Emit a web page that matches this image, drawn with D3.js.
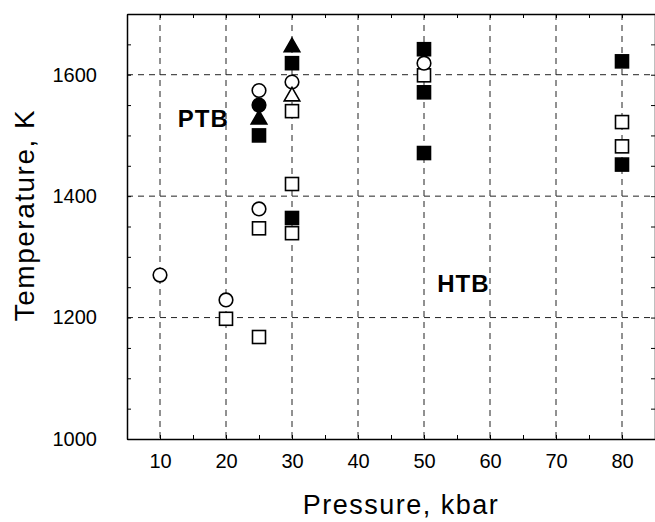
<!DOCTYPE html>
<html>
<head>
<meta charset="utf-8">
<script src="https://cdn.jsdelivr.net/npm/d3@7"></script>
<style>
  body { margin: 0; background: #fff; }
  text { font-family: "Liberation Sans", Arial, Helvetica, sans-serif; }
</style>
</head>
<body>
<div id="chart"></div>
<script>
// data: pressure (kbar) and temperature (K) per marker style
var openCircleP = [10, 20, 25, 25, 30, 50];
var openCircleT = [1270, 1229, 1574, 1379, 1588, 1619];
var filledCircleP = [25];
var filledCircleT = [1550];
var openSquareP = [20, 25, 25, 30, 30, 30, 50, 80, 80];
var openSquareT = [1198, 1347, 1168, 1540, 1420, 1339, 1599, 1522, 1482];
var filledSquareP = [25, 30, 30, 50, 50, 50, 80, 80];
var filledSquareT = [1500, 1619, 1364, 1642, 1571, 1471, 1622, 1452];
var openTriangleP = [30];
var openTriangleT = [1566];
var filledTriangleP = [25, 30];
var filledTriangleT = [1528, 1647];

var xTicks = [10, 20, 30, 40, 50, 60, 70, 80];
var yTicks = [1000, 1200, 1400, 1600];
var regionLabels = ["PTB", "HTB"];
var regionP = [12.7, 52];
var regionT = [1514, 1242];

var svg_width = 655;
var svg_height = 522;
// plot box (note: "top" is reserved on window, so use prefixed names)
var pLeft = 127, pRight = 655, pTop = 14, pBottom = 439;

var svg = d3.select("#chart")
    .append("svg")
    .attr("width", svg_width)
    .attr("height", svg_height)
    .style("background-color", "#ffffff");

var x = d3.scaleLinear().domain([5, 85]).range([pLeft, pRight]);
var y = d3.scaleLinear().domain([1000, 1700]).range([pBottom, pTop]);

// dashed grid
var grid = svg.append("g")
    .attr("stroke", "#222")
    .attr("stroke-width", 1)
    .attr("stroke-dasharray", "6,5");
grid.selectAll(".vg").data(xTicks).enter().append("line")
    .attr("x1", d => x(d)).attr("x2", d => x(d))
    .attr("y1", pTop).attr("y2", pBottom);
grid.selectAll(".hg").data(yTicks.slice(1)).enter().append("line")
    .attr("x1", pLeft).attr("x2", pRight)
    .attr("y1", d => y(d)).attr("y2", d => y(d));

// axes, ticks inward on all four sides
var minorX = d3.range(5, 86, 5);
var minorY = d3.range(1000, 1701, 50);

function styleAxis(g) {
    g.selectAll(".domain").attr("stroke", "#000").attr("stroke-width", 1.5);
    g.selectAll(".tick line").attr("stroke", "#000").attr("stroke-width", 1);
    g.selectAll("text")
        .style("font-family", "'Liberation Sans', Arial, sans-serif")
        .style("font-size", "20px")
        .attr("fill", "#000");
}

svg.append("g")
    .attr("transform", "translate(0," + pBottom + ")")
    .call(d3.axisBottom(x).tickValues(minorX).tickSize(-4).tickSizeOuter(0)
        .tickPadding(15)
        .tickFormat(d => xTicks.indexOf(d) >= 0 ? d : ""))
    .call(styleAxis);

svg.append("g")
    .attr("transform", "translate(0," + pTop + ")")
    .call(d3.axisTop(x).tickValues(minorX).tickSize(-4).tickSizeOuter(0).tickFormat(""))
    .call(styleAxis);

svg.append("g")
    .attr("transform", "translate(" + pLeft + ",0)")
    .call(d3.axisLeft(y).tickValues(minorY).tickSize(-4).tickSizeOuter(0)
        .tickPadding(30)
        .tickFormat(d => yTicks.indexOf(d) >= 0 ? d : ""))
    .call(styleAxis);

svg.append("g")
    .attr("transform", "translate(" + pRight + ",0)")
    .call(d3.axisRight(y).tickValues(minorY).tickSize(-4).tickSizeOuter(0).tickFormat(""))
    .call(styleAxis);

// axis titles
svg.append("text")
    .text("Pressure, kbar")
    .attr("x", 401)
    .attr("y", 514)
    .attr("text-anchor", "middle")
    .style("font-size", "27px")
    .style("letter-spacing", "1.5px");

svg.append("text")
    .text("Temperature, K")
    .attr("transform", "translate(34,215) rotate(-90)")
    .attr("text-anchor", "middle")
    .style("font-size", "28px")
    .style("letter-spacing", "1.5px");

// region labels
svg.selectAll(".region").data(regionLabels).enter().append("text")
    .text(d => d)
    .attr("x", (d, i) => x(regionP[i]))
    .attr("y", (d, i) => y(regionT[i]))
    .style("font-size", "24px")
    .style("font-weight", "bold")
    .style("letter-spacing", "1px");

// markers
var pts = svg.append("g").attr("stroke", "#000").attr("stroke-width", 1.6);

function drawSquares(P, T, fill) {
    pts.selectAll(null).data(P).enter().append("rect")
        .attr("x", d => x(d) - 6.5)
        .attr("y", (d, i) => y(T[i]) - 6.5)
        .attr("width", 13).attr("height", 13)
        .attr("fill", fill);
}
function drawCircles(P, T, fill) {
    pts.selectAll(null).data(P).enter().append("circle")
        .attr("cx", d => x(d))
        .attr("cy", (d, i) => y(T[i]))
        .attr("r", 6.8)
        .attr("fill", fill);
}
function drawTriangles(P, T, fill) {
    var tri = d3.symbol().type(d3.symbolTriangle).size(105);
    pts.selectAll(null).data(P).enter().append("path")
        .attr("d", tri)
        .attr("transform", (d, i) => "translate(" + x(d) + "," + (y(T[i]) + 1) + ")")
        .attr("fill", fill);
}

drawSquares(openSquareP, openSquareT, "#fff");
drawSquares(filledSquareP, filledSquareT, "#000");
drawCircles(openCircleP, openCircleT, "#fff");
drawCircles(filledCircleP, filledCircleT, "#000");
drawTriangles(openTriangleP, openTriangleT, "#fff");
drawTriangles(filledTriangleP, filledTriangleT, "#000");
</script>
</body>
</html>
